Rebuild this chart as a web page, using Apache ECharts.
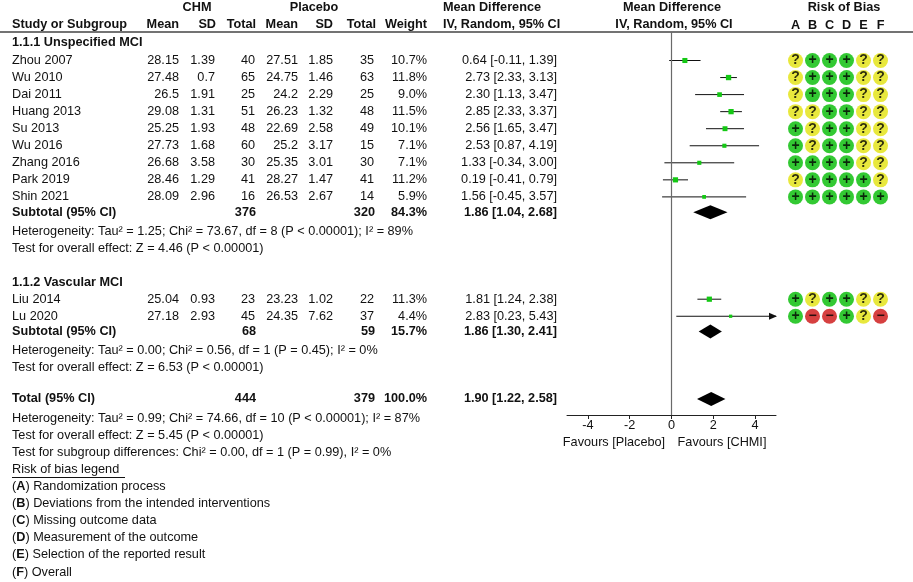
<!DOCTYPE html>
<html>
<head>
<meta charset="utf-8">
<script src="https://cdn.jsdelivr.net/npm/echarts@6.0.0/dist/echarts.min.js"></script>
<style>
html, body { margin: 0; padding: 0; background: #fff; }
#chart-container { width: 913px; height: 582px; }
</style>
</head>
<body>
<div id="chart-container"></div>
<script>
// study level data
var studies = ['Zhou 2007', 'Wu 2010', 'Dai 2011', 'Huang 2013', 'Su 2013', 'Wu 2016', 'Zhang 2016', 'Park 2019', 'Shin 2021', 'Liu 2014', 'Lu 2020'];
var chmMean = [28.15, 27.48, 26.5, 29.08, 25.25, 27.73, 26.68, 28.46, 28.09, 25.04, 27.18];
var chmSD = [1.39, 0.7, 1.91, 1.31, 1.93, 1.68, 3.58, 1.29, 2.96, 0.93, 2.93];
var chmN = [40, 65, 25, 51, 48, 60, 30, 41, 16, 23, 45];
var plMean = [27.51, 24.75, 24.2, 26.23, 22.69, 25.2, 25.35, 28.27, 26.53, 23.23, 24.35];
var plSD = [1.85, 1.46, 2.29, 1.32, 2.58, 3.17, 3.01, 1.47, 2.67, 1.02, 7.62];
var plN = [35, 63, 25, 48, 49, 15, 30, 41, 14, 22, 37];
var weight = [10.7, 11.8, 9.0, 11.5, 10.1, 7.1, 7.1, 11.2, 5.9, 11.3, 4.4];
var md = [0.64, 2.73, 2.30, 2.85, 2.56, 2.53, 1.33, 0.19, 1.56, 1.81, 2.83];
var ciLow = [-0.11, 2.33, 1.13, 2.33, 1.65, 0.87, -0.34, -0.41, -0.45, 1.24, 0.23];
var ciHigh = [1.39, 3.13, 3.47, 3.37, 3.47, 4.19, 3.00, 0.79, 3.57, 2.38, 5.43];
var riskOfBias = ['?+++??', '?+++??', '?+++??', '??++??', '+?++??', '+?++??', '++++??', '?++++?', '++++++', '+?++??', '+--+?-'];

// pooled results: subtotal 1.1.1, subtotal 1.1.2, total
var poolLabels = ['Subtotal (95% CI)', 'Subtotal (95% CI)', 'Total (95% CI)'];
var poolChmN = [376, 68, 444];
var poolPlN = [320, 59, 379];
var poolWeight = [84.3, 15.7, 100.0];
var poolMd = [1.86, 1.86, 1.90];
var poolLow = [1.04, 1.30, 1.22];
var poolHigh = [2.68, 2.41, 2.58];

var statLines = [
  'Heterogeneity: Tau² = 1.25; Chi² = 73.67, df = 8 (P < 0.00001); I² = 89%',
  'Test for overall effect: Z = 4.46 (P < 0.00001)',
  'Heterogeneity: Tau² = 0.00; Chi² = 0.56, df = 1 (P = 0.45); I² = 0%',
  'Test for overall effect: Z = 6.53 (P < 0.00001)',
  'Heterogeneity: Tau² = 0.99; Chi² = 74.66, df = 10 (P < 0.00001); I² = 87%',
  'Test for overall effect: Z = 5.45 (P < 0.00001)',
  'Test for subgroup differences: Chi² = 0.00, df = 1 (P = 0.99), I² = 0%'
];
var biasDomains = ['A', 'B', 'C', 'D', 'E', 'F'];
var biasLegend = ['Randomization process', 'Deviations from the intended interventions', 'Missing outcome data',
  'Measurement of the outcome', 'Selection of the reported result', 'Overall'];
var xTicks = [-4, -2, 0, 2, 4];

// row layout
var rowTop = 60.5, rowStep = 17.05;
function rowAt(py) { return (py - rowTop) / rowStep; }
var studyRows = [0, 1, 2, 3, 4, 5, 6, 7, 8, 14, 15];
var poolRows = [8.9, 15.9, 19.85];
var statRows = [10, 11, 17, 18, 21, 22, 23];

var FONT = '"Liberation Sans", Arial, Helvetica, sans-serif';
var FS = 12.7;
var texts = [];
function t(x, r, s, align, bold) { texts.push([x, r, s, align || 'left', bold ? 1 : 0]); }
function ci(m, l, h) { return m.toFixed(2) + ' [' + l.toFixed(2) + ', ' + h.toFixed(2) + ']'; }

var rH1 = rowAt(7), rH2 = rowAt(24);
t(197, rH1, 'CHM', 'center', 1);
t(314, rH1, 'Placebo', 'center', 1);
t(443, rH1, 'Mean Difference', 'left', 1);
t(672, rH1, 'Mean Difference', 'center', 1);
t(844, rH1, 'Risk of Bias', 'center', 1);
t(12, rH2, 'Study or Subgroup', 'left', 1);
t(179, rH2, 'Mean', 'right', 1);
t(216, rH2, 'SD', 'right', 1);
t(256, rH2, 'Total', 'right', 1);
t(298, rH2, 'Mean', 'right', 1);
t(333, rH2, 'SD', 'right', 1);
t(376, rH2, 'Total', 'right', 1);
t(427, rH2, 'Weight', 'right', 1);
t(443, rH2, 'IV, Random, 95% CI', 'left', 1);
t(674, rH2, 'IV, Random, 95% CI', 'center', 1);
t(12, rowAt(42), '1.1.1 Unspecified MCI', 'left', 1);
t(12, 13, '1.1.2 Vascular MCI', 'left', 1);

studies.forEach(function (s, i) {
  var r = studyRows[i];
  t(12, r, s);
  t(179, r, String(chmMean[i]), 'right');
  t(215, r, String(chmSD[i]), 'right');
  t(255, r, String(chmN[i]), 'right');
  t(298, r, String(plMean[i]), 'right');
  t(333, r, String(plSD[i]), 'right');
  t(374, r, String(plN[i]), 'right');
  t(427, r, weight[i].toFixed(1) + '%', 'right');
  t(557, r, ci(md[i], ciLow[i], ciHigh[i]), 'right');
});
poolLabels.forEach(function (s, i) {
  var r = poolRows[i];
  t(12, r, s, 'left', 1);
  t(256, r, String(poolChmN[i]), 'right', 1);
  t(375, r, String(poolPlN[i]), 'right', 1);
  t(427, r, poolWeight[i].toFixed(1) + '%', 'right', 1);
  t(557, r, ci(poolMd[i], poolLow[i], poolHigh[i]), 'right', 1);
});
statLines.forEach(function (s, i) { t(12, statRows[i], s); });
t(12, 24, 'Risk of bias legend ');
biasDomains.forEach(function (d, i) { t(12, 25 + i, '({b|' + d + '}) ' + biasLegend[i]); });
t(614, rowAt(442), 'Favours [Placebo]', 'center');
t(722, rowAt(442), 'Favours [CHMI]', 'center');

// forest items: [md, row, low, high, kind(0 study, 1 diamond), size]
var forest = [];
studies.forEach(function (s, i) {
  forest.push([md[i], studyRows[i], ciLow[i], ciHigh[i], 0, 1.55 * Math.sqrt(weight[i])]);
});
poolMd.forEach(function (m, i) {
  forest.push([m, poolRows[i], poolLow[i], poolHigh[i], 1, 7]);
});

// risk of bias circles
var biasColor = { '+': '#00bc00', '?': '#e2e20c', '-': '#cc1010' };
var biasMark = { '+': '+', '?': '?', '-': '−' };
var biasData = [];
riskOfBias.forEach(function (code, i) {
  code.split('').forEach(function (c, j) {
    biasData.push({ value: [j, studyRows[i]], mark: c, itemStyle: { color: biasColor[c] } });
  });
});

var chartDom = document.getElementById('chart-container');
var myChart = echarts.init(chartDom);

option = {
  animation: false,
  backgroundColor: '#fff',
  grid: [
    { left: 0, top: 0, width: 913, height: 582 },
    { left: 567, top: 0, width: 209, height: 415 },
    { left: 787, top: 32, width: 102, height: 550 }
  ],
  xAxis: [
    { gridIndex: 0, type: 'value', min: 0, max: 913, show: false },
    {
      gridIndex: 1, type: 'value', min: -5, max: 5, position: 'bottom',
      splitLine: { show: false },
      axisLine: { onZero: false, lineStyle: { color: '#222', width: 1 } },
      axisTick: { length: 4, lineStyle: { color: '#222' }, customValues: xTicks },
      axisLabel: { margin: 4, color: '#111', fontFamily: FONT, fontSize: FS, customValues: xTicks }
    },
    {
      gridIndex: 2, type: 'category', data: biasDomains, position: 'top',
      axisLine: { show: false }, axisTick: { show: false }, splitLine: { show: false },
      axisLabel: { margin: 0, color: '#111', fontFamily: FONT, fontSize: FS, fontWeight: 'bold' }
    }
  ],
  yAxis: [
    { gridIndex: 0, type: 'value', inverse: true, min: rowAt(0), max: rowAt(582), show: false },
    { gridIndex: 1, type: 'value', inverse: true, min: rowAt(0), max: rowAt(415), show: false },
    { gridIndex: 2, type: 'value', inverse: true, min: rowAt(32), max: rowAt(582), show: false }
  ],
  series: [
    {
      // header rule and legend underline
      type: 'lines', coordinateSystem: 'cartesian2d', xAxisIndex: 0, yAxisIndex: 0,
      lineStyle: { color: '#444', width: 1.5, opacity: 1 },
      data: [
        { coords: [[0, rowAt(32)], [913, rowAt(32)]] },
        { coords: [[12, rowAt(477)], [125, rowAt(477)]], lineStyle: { width: 1, color: '#111' } }
      ]
    },
    {
      type: 'custom', xAxisIndex: 0, yAxisIndex: 0,
      data: texts.map(function (d, i) { return [d[0], d[1], i]; }),
      renderItem: function (params, api) {
        var d = texts[params.dataIndex];
        var p = api.coord([d[0], d[1]]);
        return {
          type: 'text', x: p[0], y: p[1],
          style: {
            text: d[2], align: d[3], verticalAlign: 'middle',
            fontFamily: FONT, fontSize: FS, fontWeight: d[4] ? 'bold' : 'normal', fill: '#111',
            rich: { b: { fontFamily: FONT, fontSize: FS, fontWeight: 'bold', fill: '#111' } }
          }
        };
      }
    },
    {
      // line of no effect
      type: 'line', xAxisIndex: 1, yAxisIndex: 1, symbol: 'none',
      lineStyle: { color: '#6a6a6a', width: 1.2 },
      data: [[0, rowAt(32)], [0, rowAt(415)]]
    },
    {
      type: 'custom', xAxisIndex: 1, yAxisIndex: 1,
      data: forest.map(function (f, i) { return [f[0], f[1], i]; }),
      renderItem: function (params, api) {
        var f = forest[params.dataIndex];
        var y = api.coord([0, f[1]])[1];
        var xl = api.coord([Math.max(f[2], -5), f[1]])[0];
        var xh = api.coord([Math.min(f[3], 5), f[1]])[0];
        var xm = api.coord([f[0], f[1]])[0];
        if (f[4] === 1) {
          return {
            type: 'polygon',
            shape: { points: [[xl, y], [xm, y - f[5]], [xh, y], [xm, y + f[5]]] },
            style: { fill: '#000' }
          };
        }
        var s = f[5];
        var children = [
          { type: 'line', shape: { x1: xl, y1: y, x2: xh, y2: y }, style: { stroke: '#111', lineWidth: 1 } },
          { type: 'rect', shape: { x: xm - s / 2, y: y - s / 2, width: s, height: s }, style: { fill: '#14c814' } }
        ];
        if (f[3] > 5) {
          children.push({ type: 'polygon', shape: { points: [[xh + 1, y], [xh - 7, y - 3.5], [xh - 7, y + 3.5]] }, style: { fill: '#111' } });
        }
        return { type: 'group', children: children };
      }
    },
    {
      type: 'scatter', xAxisIndex: 2, yAxisIndex: 2,
      symbol: 'circle', symbolSize: 15,
      data: biasData,
      label: {
        show: true, position: 'inside', color: '#000', fontFamily: FONT, fontSize: 14, fontWeight: 'bold',
        formatter: function (p) { return biasMark[p.data.mark]; }
      }
    }
  ]
};

option && myChart.setOption(option);
</script>
</body>
</html>
